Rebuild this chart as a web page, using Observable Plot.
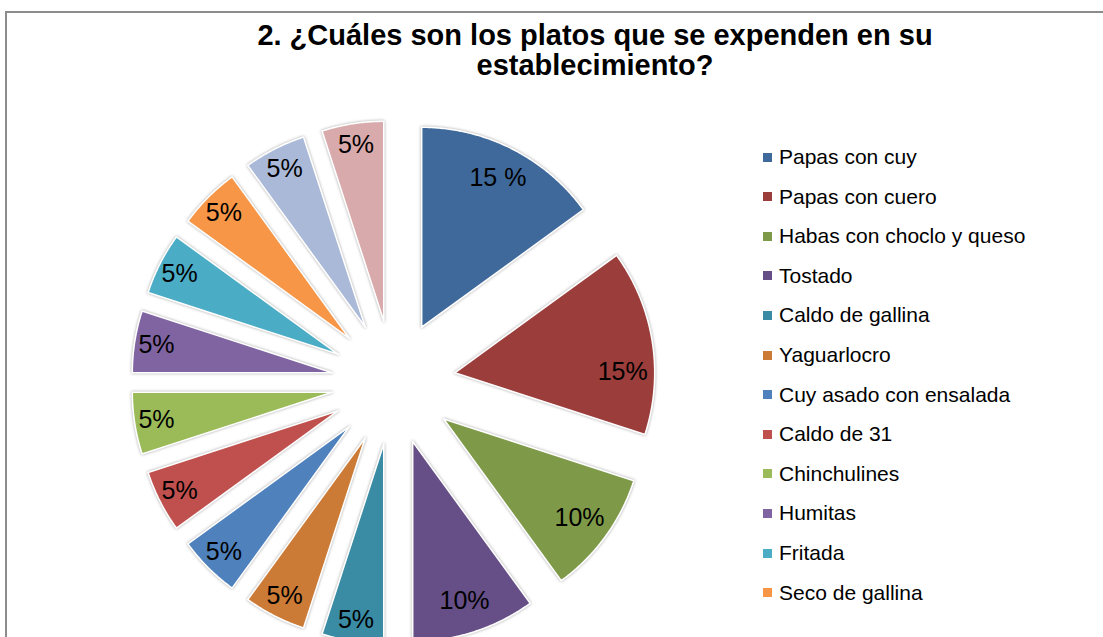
<!DOCTYPE html>
<html>
<head>
<meta charset="utf-8">
<script src="https://cdn.jsdelivr.net/npm/d3@7"></script>
<script src="https://cdn.jsdelivr.net/npm/@observablehq/plot@0.6"></script>
<style>
html, body { margin: 0; padding: 0; background: #fff; overflow: hidden; }
#wrap { position: relative; width: 1103px; height: 637px; overflow: hidden; font-family: "Liberation Sans", Arial, sans-serif; background: #fff; }
#ftop { position: absolute; left: 5px; top: 11px; width: 1098px; height: 2px; background: #8c8c8c; }
#fleft { position: absolute; left: 5px; top: 11px; width: 2px; height: 626px; background: #8c8c8c; }
#title { position: absolute; left: 0; top: 20px; width: 1190px; text-align: center; font-weight: bold; font-size: 29px; line-height: 30px; color: #000; }
#chart { position: absolute; left: 0; top: 0; }
#legend { position: absolute; left: 763px; top: 0; }
.row { position: absolute; left: 0; white-space: nowrap; font-size: 21px; line-height: 24px; color: #000; }
.sw { position: absolute; left: 0; top: 7.5px; width: 9px; height: 9px; }
.lt { position: absolute; left: 16px; top: 0; }
#chart svg g[aria-label="line"] path { filter: drop-shadow(0 0 1.5px rgba(0,0,0,0.35)); }
</style>
</head>
<body>
<div id="wrap">
  <div id="ftop"></div>
  <div id="fleft"></div>
  <div id="chart"></div>
  <div id="title">2. ¿Cuáles son los platos que se expenden en su<br>establecimiento?</div>
  <div id="legend"></div>
</div>
<script>
// ---- Data ----
const categories = [
  "Papas con cuy", "Papas con cuero", "Habas con choclo y queso", "Tostado",
  "Caldo de gallina", "Yaguarlocro", "Cuy asado con ensalada", "Caldo de 31",
  "Chinchulines", "Humitas", "Fritada", "Seco de gallina", "Plato 13", "Plato 14"
];
const values = [15, 15, 10, 10, 5, 5, 5, 5, 5, 5, 5, 5, 5, 5];
const labels = ["15 %", "15%", "10%", "10%", "5%", "5%", "5%", "5%", "5%", "5%", "5%", "5%", "5%", "5%"];
const legendCount = 12; // entries visible in the legend
const colors = [
  "#3f699a", "#9b3d3b", "#7e9a48", "#664f86", "#3a8ba4", "#cc7b37",
  "#4f81bd", "#c0504d", "#9bbb59", "#8064a2", "#4bacc6", "#f79646",
  "#a9b9d7", "#d9aaab"
];

// ---- Geometry (unit circle, exploded) ----
const explode = 0.31;
const pie = d3.pie().sort(null).value(d => d).startAngle(0).endAngle(2 * Math.PI)(values);
const slicePts = [];
const labelPts = [];
pie.forEach((p, i) => {
  const cat = categories[i];
  const m = (p.startAngle + p.endAngle) / 2;
  const ox = explode * Math.sin(m), oy = explode * Math.cos(m);
  slicePts.push({cat, x: ox, y: oy});
  const n = Math.max(12, Math.ceil((p.endAngle - p.startAngle) / (Math.PI / 360)));
  for (let k = 0; k <= n; k++) {
    const a = p.startAngle + (p.endAngle - p.startAngle) * k / n;
    slicePts.push({cat, x: ox + Math.sin(a), y: oy + Math.cos(a)});
  }
  slicePts.push({cat, x: ox, y: oy});
  const lr = values[i] <= 5 ? 0.89 : 0.84;
  const la = values[i] === 15 && i === 1 ? m + 0.15 : m;
  labelPts.push({cat, label: labels[i], x: ox + lr * Math.sin(la), y: oy + lr * Math.cos(la)});
});

// ---- Plot ----
const W = 1103, H = 637, cx = 393, cy = 382, R = 200;
const chart = Plot.plot({
  width: W, height: H, margin: 0,
  x: {domain: [-cx / R, (W - cx) / R], axis: null},
  y: {domain: [-(H - cy) / R, cy / R], axis: null},
  color: {domain: categories, range: colors},
  style: {fontFamily: "'Liberation Sans', Arial, sans-serif", background: "transparent", overflow: "visible"},
  marks: [
    Plot.line(slicePts, {x: "x", y: "y", z: "cat", fill: "cat", stroke: "white", strokeWidth: 1.6, strokeLinejoin: "round"}),
    Plot.text(labelPts, {x: "x", y: "y", text: "label", fill: "#000", fontSize: 25, textAnchor: "middle", lineAnchor: "middle"})
  ]
});
document.getElementById("chart").appendChild(chart);

// ---- Legend ----
const legend = document.getElementById("legend");
categories.slice(0, legendCount).forEach((c, i) => {
  const row = document.createElement("div");
  row.className = "row";
  row.style.top = (145 + 39.6 * i) + "px";
  const sw = document.createElement("span");
  sw.className = "sw";
  sw.style.background = colors[i];
  const t = document.createElement("span");
  t.className = "lt";
  t.textContent = c;
  row.appendChild(sw);
  row.appendChild(t);
  legend.appendChild(row);
});
</script>
</body>
</html>
